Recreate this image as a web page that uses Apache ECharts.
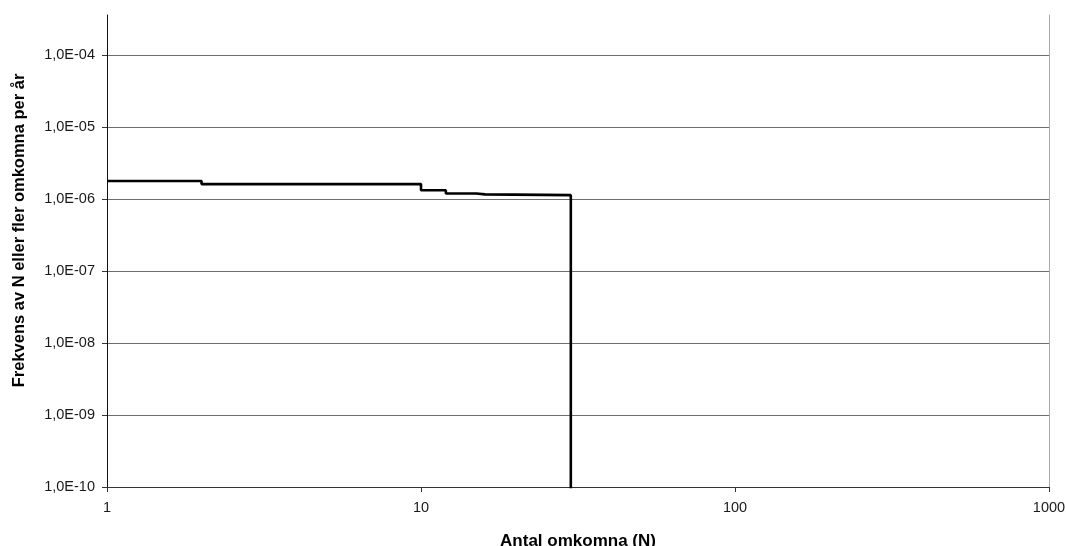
<!DOCTYPE html>
<html>
<head>
<meta charset="utf-8">
<script src="https://cdn.jsdelivr.net/npm/echarts@6/dist/echarts.min.js"></script>
<style>
html,body{margin:0;padding:0;background:#fff;}
#chart{width:1066px;height:546px;}
</style>
</head>
<body>
<div id="chart"></div>
<script>
// Data: F-N curve (step line), N = number of fatalities, F = frequency per year
const nValues = [1, 2, 10, 12, 15, 16, 30, 30];
const freqValues = [1.78e-6, 1.61e-6, 1.32e-6, 1.19e-6, 1.16e-6, 1.13e-6, 1.13e-6, 1e-12];
const xTickValues = [1, 10, 100, 1000];
const xTickLabels = ['1', '10', '100', '1000'];
const yTickValues = [1e-10, 1e-9, 1e-8, 1e-7, 1e-6, 1e-5, 1e-4];
const yTickLabels = ['1,0E-10', '1,0E-09', '1,0E-08', '1,0E-07', '1,0E-06', '1,0E-05', '1,0E-04'];
const xAxisTitle = 'Antal omkomna (N)';
const yAxisTitle = 'Frekvens av N eller fler omkomna per år';

const seriesData = nValues.map((n, i) => [n, freqValues[i]]);

function labelFor(values, labels, v) {
  for (let i = 0; i < values.length; i++) {
    if (Math.abs(Math.log10(v) - Math.log10(values[i])) < 0.01) return labels[i];
  }
  return '';
}

const FONT = '"Liberation Sans", Arial, sans-serif';
const chart = echarts.init(document.getElementById('chart'), null, {renderer: 'canvas'});
chart.setOption({
  animation: false,
  backgroundColor: '#ffffff',
  grid: {left: 107, right: 17, top: 15, bottom: 59, containLabel: false, outerBoundsMode: 'none'},
  xAxis: {
    type: 'log',
    logBase: 10,
    min: 1,
    max: 1000,
    name: xAxisTitle,
    nameLocation: 'middle',
    nameGap: 46,
    nameTextStyle: {fontFamily: FONT, fontSize: 17, fontWeight: 'bold', color: '#000'},
    axisLine: {show: true, lineStyle: {color: '#333', width: 1}},
    axisTick: {show: true, length: 5, inside: false, lineStyle: {color: '#333'}, customValues: xTickValues},
    axisLabel: {
      fontFamily: FONT, fontSize: 14.5, color: '#1a1a1a', margin: 13,
      customValues: xTickValues,
      formatter: v => labelFor(xTickValues, xTickLabels, v)
    },
    splitLine: {show: false},
    minorTick: {show: false},
    minorSplitLine: {show: false}
  },
  yAxis: [{
    type: 'log',
    logBase: 10,
    min: 1e-10,
    max: Math.pow(10, -3.445),
    name: yAxisTitle,
    nameLocation: 'middle',
    nameGap: 79,
    nameRotate: 90,
    nameTextStyle: {fontFamily: FONT, fontSize: 16.5, fontWeight: 'bold', color: '#000', padding: [0, 0, 0, 41]},
    axisLine: {show: true, lineStyle: {color: '#111', width: 1}},
    axisTick: {show: true, length: 5, inside: false, lineStyle: {color: '#333'}, customValues: yTickValues},
    axisLabel: {
      fontFamily: FONT, fontSize: 14.5, color: '#1a1a1a', margin: 12,
      customValues: yTickValues,
      formatter: v => labelFor(yTickValues, yTickLabels, v)
    },
    splitLine: {show: true, showMaxLine: true, showMinLine: false, lineStyle: {color: '#6e6e6e', width: 1}},
    minorTick: {show: false},
    minorSplitLine: {show: false}
  }, {
    type: 'log',
    logBase: 10,
    position: 'right',
    min: 1e-10,
    max: Math.pow(10, -3.445),
    axisLine: {show: true, lineStyle: {color: '#aaa', width: 1}},
    axisTick: {show: false},
    axisLabel: {show: false},
    splitLine: {show: false}
  }],
  series: [{
    type: 'line',
    yAxisIndex: 0,
    data: seriesData,
    step: 'end',
    showSymbol: false,
    symbol: 'none',
    clip: true,
    lineStyle: {color: '#000', width: 2.6},
    z: 5
  }]
});
</script>
</body>
</html>
